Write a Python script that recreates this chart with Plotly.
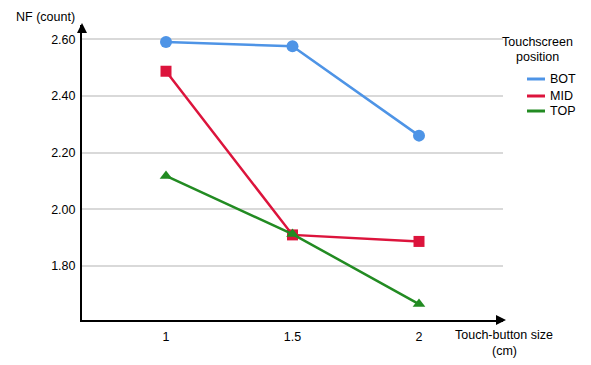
import plotly.graph_objects as go

sizes = [1, 1.5, 2]
series_names = ["BOT", "MID", "TOP"]
bot = [2.59, 2.575, 2.26]
mid = [2.487, 1.91, 1.887]
top = [2.118, 1.913, 1.666]
colors = ["#4E94E6", "#DC143C", "#228B22"]
symbols = ["circle", "square", "triangle-up"]
y_ticks = [1.80, 2.00, 2.20, 2.40, 2.60]
x_ticks = [1, 1.5, 2]

FS = 12.5
# page body has an 8px margin; compensate so the plot area lands at x 82..503, y 25..320
W, H = 583, 357
L, T, R, B = 74, 17, 88, 45
PW, PH = W - L - R, H - T - B

def px(x):
    return (x - 82) / PW

def py(y):
    return (320 - y) / PH

fig = go.Figure()
for name, vals, c, s in zip(series_names, [bot, mid, top], colors, symbols):
    fig.add_trace(go.Scatter(x=sizes, y=vals, mode="lines+markers", name=name,
                             line=dict(color=c, width=2.5),
                             marker=dict(symbol=s, size=11 if s != "circle" else 12, color=c),
                             showlegend=False))

fig.update_layout(
    width=W, height=H,
    margin=dict(l=L, r=R, t=T, b=B),
    paper_bgcolor="white", plot_bgcolor="white",
    font=dict(family="Liberation Sans, Arial, sans-serif", size=FS, color="black"),
    showlegend=False,
    xaxis=dict(range=[0.668, 2.332], tickvals=x_ticks, ticktext=[str(v) for v in x_ticks],
               showgrid=False, zeroline=False, showline=True, linecolor="black", linewidth=2,
               ticks="outside", ticklen=4, tickcolor="rgba(0,0,0,0)"),
    yaxis=dict(range=[1.61, 2.65], tickvals=y_ticks, ticktext=["%.2f" % v for v in y_ticks],
               showgrid=True, gridcolor="#d9d9d9", gridwidth=1.5, zeroline=False,
               showline=True, linecolor="black", linewidth=2,
               ticks="outside", ticklen=2, tickcolor="rgba(0,0,0,0)"),
)

# axis arrows
fig.add_annotation(x=1.0, y=0, xref="paper", yref="paper", ax=-6, ay=0,
                   xshift=3, showarrow=True, arrowhead=2,
                   arrowsize=1, arrowwidth=2, arrowcolor="black", text="")
fig.add_annotation(x=0, y=1.0, xref="paper", yref="paper", ax=0, ay=6,
                   yshift=2, showarrow=True, arrowhead=2,
                   arrowsize=1, arrowwidth=2, arrowcolor="black", text="")
fig.add_annotation(x=px(77), y=py(17), xref="paper", yref="paper", xanchor="right", yanchor="middle",
                   text="NF (count)", showarrow=False)
fig.add_annotation(x=px(504), y=py(335), xref="paper", yref="paper", xanchor="center", yanchor="middle",
                   text="Touch-button size", showarrow=False)
fig.add_annotation(x=px(504), y=py(351), xref="paper", yref="paper", xanchor="center", yanchor="middle",
                   text="(cm)", showarrow=False)

# legend drawn by hand
fig.add_annotation(x=px(537), y=py(42), xref="paper", yref="paper", xanchor="center", yanchor="middle",
                   text="Touchscreen", showarrow=False)
fig.add_annotation(x=px(537), y=py(57), xref="paper", yref="paper", xanchor="center", yanchor="middle",
                   text="position", showarrow=False)
leg_y = [79, 96, 111]
for name, c, yy in zip(series_names, colors, leg_y):
    fig.add_shape(type="line", xref="paper", yref="paper", x0=px(527), x1=px(545),
                  y0=py(yy), y1=py(yy), line=dict(color=c, width=3))
    fig.add_annotation(x=px(548), y=py(yy), xref="paper", yref="paper", xanchor="left",
                       yanchor="middle", text=name, showarrow=False)

fig.write_html("out.html")
